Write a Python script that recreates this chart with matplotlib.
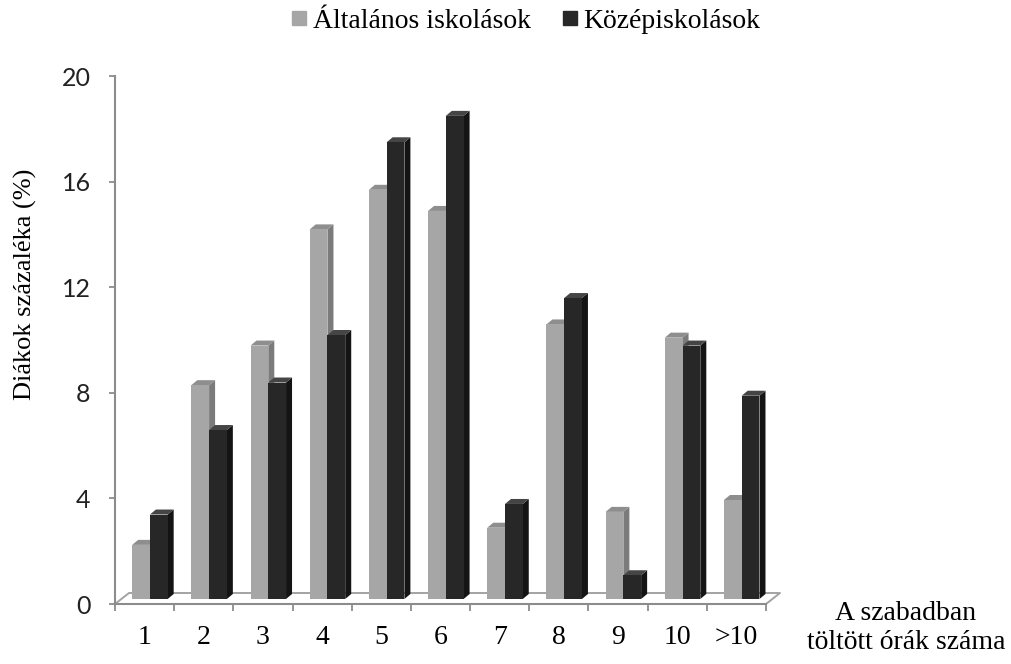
import matplotlib
matplotlib.use("Agg")
import matplotlib.pyplot as plt
import matplotlib.transforms as mtransforms
from matplotlib.patches import Polygon, Rectangle
from matplotlib.lines import Line2D

# hours spent in free time, share of pupils (%)
categories = ["1", "2", "3", "4", "5", "6", "7", "8", "9", "10", ">10"]
altalanos = [2.05, 8.1, 9.6, 14.0, 15.5, 14.7, 2.7, 10.4, 3.3, 9.9, 3.75]
kozep = [3.2, 6.4, 8.2, 10.0, 17.3, 18.3, 3.6, 11.4, 0.9, 9.6, 7.7]
series_names = ["Általános iskolások", "Középiskolások"]
yticks = [0, 4, 8, 12, 16, 20]

serif = "Liberation Serif"
axis_col = "#8c8c8c"

# face colours: front, side, top
gray_faces = ("#a6a6a6", "#7b7b7b", "#8e8e8e")
black_faces = ("#272727", "#141414", "#454545")

W, H = 1011, 664
fig = plt.figure(figsize=(W / 100, H / 100), dpi=100)
ax = fig.add_axes([115 / W, 60 / H, 651 / W, 528 / H])
ax.set_xlim(0, len(categories))
ax.set_ylim(0, 20)

# pixels per data unit, used for the fake 3d depth
px_x = 651 / len(categories)
px_y = 528 / 20.0

def px2data(dx, dy):
    return dx / px_x, dy / px_y

# bars sit a little back on the floor
bar_shift = mtransforms.ScaledTranslation(0, 5 / 100, fig.dpi_scale_trans)
bar_tr = ax.transData + bar_shift

# floor outline
fdx, fdy = px2data(14, 11)
n = len(categories)
floor_x = [0, fdx, n + fdx, n]
floor_y = [0, fdy, fdy, 0]
ax.plot(floor_x, floor_y, color="#a3a3a3", lw=1.4, clip_on=False, zorder=1)

ddx, ddy = px2data(6, 5)
bw = 0.3


def bar3d(x0, h, faces, z):
    x1 = x0 + bw
    front, side, top = faces
    ax.add_patch(Polygon([(x1, 0), (x1 + ddx, ddy), (x1 + ddx, h + ddy), (x1, h)],
                         closed=True, facecolor=side, edgecolor="none",
                         transform=bar_tr, clip_on=False, zorder=z))
    ax.add_patch(Polygon([(x0, h), (x0 + ddx, h + ddy), (x1 + ddx, h + ddy), (x1, h)],
                         closed=True, facecolor=top, edgecolor="none",
                         transform=bar_tr, clip_on=False, zorder=z))
    ax.add_patch(Rectangle((x0, 0), bw, h, facecolor=front, edgecolor="none",
                           transform=bar_tr, clip_on=False, zorder=z))


for i in range(n):
    x0 = i + 0.29
    bar3d(x0, altalanos[i], gray_faces, 3 + 2 * i)
    bar3d(x0 + bw, kozep[i], black_faces, 4 + 2 * i)

for side in ["top", "right"]:
    ax.spines[side].set_visible(False)
for side in ["left", "bottom"]:
    ax.spines[side].set_color(axis_col)
    ax.spines[side].set_linewidth(1.5)
    ax.spines[side].set_zorder(30)

ax.set_yticks(yticks)
ax.set_yticklabels([str(v) for v in yticks], fontfamily="Lato", fontsize=18,
                   color="#222222")
ax.tick_params(axis="y", direction="out", length=4.5, width=1.3,
               color=axis_col, pad=13)

ax.set_xticks(range(n + 1))
ax.set_xticklabels([])
ax.tick_params(axis="x", which="major", direction="out", length=5, width=1.3,
               color=axis_col)
ax.set_xticks([i + 0.5 for i in range(n)], minor=True)
ax.set_xticklabels(categories, minor=True, fontfamily=serif, fontsize=20)
ax.tick_params(axis="x", which="minor", length=0, pad=15)

fig.text(25 / W, 1 - 284 / H, "Diákok százaléka (%)", rotation=90,
         ha="center", va="center", fontfamily=serif, fontsize=19)
fig.text(906 / W, 1 - 628 / H, "A szabadban\ntöltött órák száma",
         ha="center", va="center", fontfamily=serif, fontsize=20,
         linespacing=1.2)

handles = [Line2D([], [], marker="s", ls="", color=gray_faces[0], markersize=10),
           Line2D([], [], marker="s", ls="", color=black_faces[0], markersize=10)]
fig.legend(handles, series_names, loc="center", bbox_to_anchor=(524 / W, 1 - 21 / H),
           ncol=2, frameon=False, prop={"family": serif, "size": 20},
           handletextpad=0.1, columnspacing=1.0, handlelength=0.8)

fig.savefig("out.png", dpi=100)
